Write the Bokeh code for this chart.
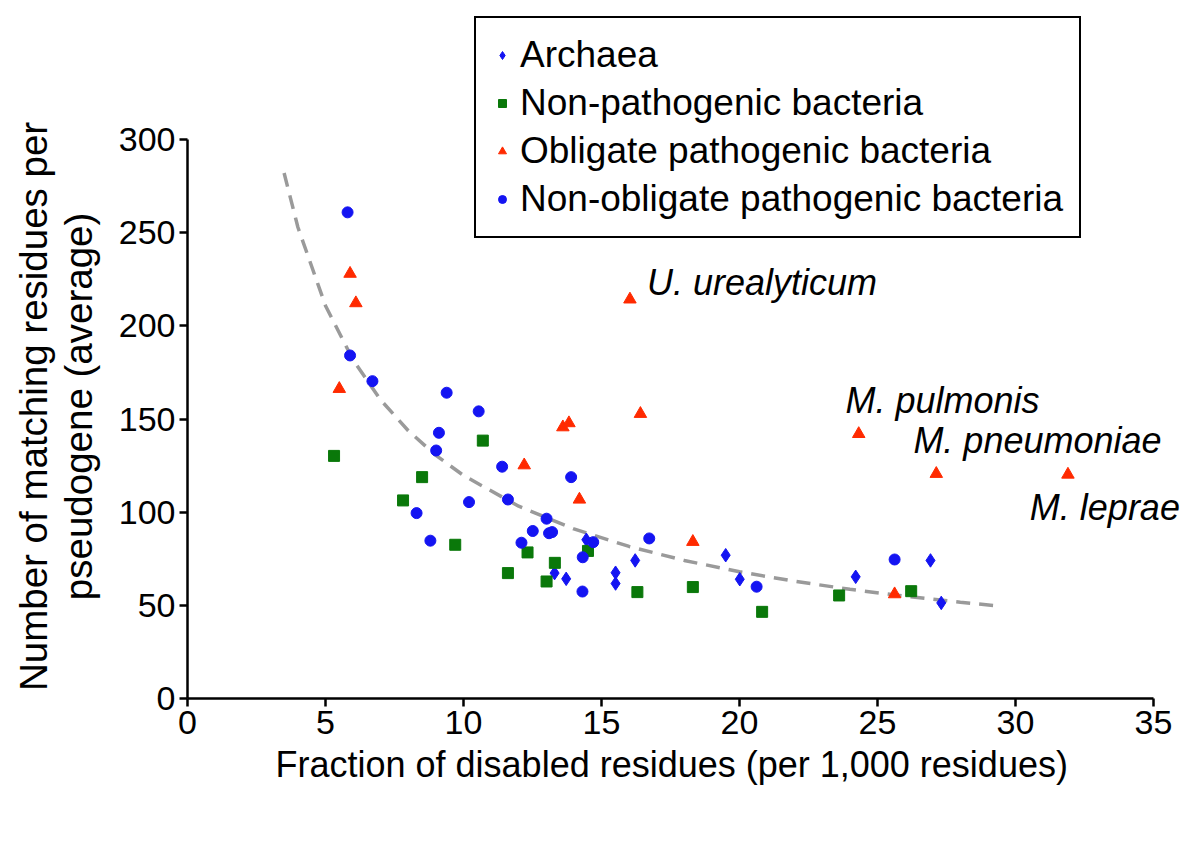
from bokeh.plotting import figure
from bokeh.models import Range1d, Legend, LegendItem, FixedTicker, Title
from bokeh.core.properties import value
from bokeh.embed import file_html
from bokeh.resources import INLINE

# ---- data ----
archaea_x = [13.30, 13.72, 14.45, 15.51, 15.51, 16.22, 19.50, 20.01, 24.21, 26.92, 27.31]
archaea_y = [67.3, 64.2, 85.2, 67.5, 61.7, 74.1, 76.9, 64.0, 65.3, 74.1, 51.3]

nonpath_x = [5.31, 7.81, 8.50, 9.70, 10.70, 11.61, 12.32, 13.01, 13.31, 14.51, 16.30, 18.31, 20.82, 23.61, 26.22]
nonpath_y = [130.2, 106.3, 118.8, 82.5, 138.4, 67.3, 78.4, 62.8, 72.8, 79.2, 57.1, 59.8, 46.5, 55.3, 57.6]

oblig_x = [5.50, 5.89, 6.10, 12.20, 13.60, 13.82, 14.20, 16.03, 16.41, 18.31, 24.32, 25.62, 27.13, 31.90]
oblig_y = [166.2, 228.0, 212.2, 125.2, 145.6, 147.8, 106.8, 214.2, 152.8, 84.1, 142.0, 56.0, 120.6, 120.2]

nonoblig_x = [5.80, 5.89, 6.70, 9.39, 10.55, 9.11, 9.01, 11.40, 13.90, 10.20, 11.61, 8.30, 13.01, 12.51,
              13.10, 13.21, 12.10, 8.80, 14.70, 14.32, 14.31, 16.73, 20.62, 25.62]
nonoblig_y = [260.9, 184.1, 170.3, 164.1, 154.1, 142.6, 133.1, 124.4, 118.8, 105.4, 106.8, 99.5, 96.5, 89.9,
              88.7, 89.3, 83.6, 84.7, 83.9, 75.8, 57.4, 85.9, 60.0, 74.6]

# dashed trend curve
trend_x = [3.5, 4, 5, 6, 7, 8, 9, 10, 12, 14, 16, 18, 20, 22, 24, 26, 28, 29.3]
trend_y = [282.0, 252.9, 210.8, 181.7, 160.2, 143.7, 130.5, 119.7, 103.2, 91.0, 81.6, 74.1, 68.0, 62.9, 58.6, 54.9, 51.7, 49.8]

species = ["U. urealyticum", "M. pulmonis", "M. pneumoniae", "M. leprae"]
species_x = [16.65, 23.84, 26.30, 30.52]
species_y = [223.5, 160.0, 138.5, 102.5]

x_ticks = [0, 5, 10, 15, 20, 25, 30, 35]
y_ticks = [0, 50, 100, 150, 200, 250, 300]

x_title = "Fraction of disabled residues (per 1,000 residues)"
y_title_1 = "Number of matching residues per"
y_title_2 = "pseudogene (average)"

FONT = "Liberation Sans"
BLUE = "#1414f2"
GREEN = "#0a780a"
RED = "#ff2a00"

# frame geometry (pixels): axis 0..35 spans 966 px, 0..300 spans 559 px
W, H = 1195, 845
LEFT, RIGHT, TOP, BOTTOM = 187, 5, 5, 147
px_per_x = 966 / 35.0
px_per_y = 559 / 300.0
x_end = (W - LEFT - RIGHT) / px_per_x
y_end = (H - TOP - BOTTOM) / px_per_y

p = figure(width=W, height=H, output_backend="svg", toolbar_location=None,
           x_range=Range1d(0, x_end), y_range=Range1d(0, y_end),
           min_border_left=LEFT, min_border_top=TOP, min_border_right=RIGHT, min_border_bottom=BOTTOM)
p.outline_line_color = None
p.xgrid.grid_line_color = None
p.ygrid.grid_line_color = None
p.background_fill_color = "white"
p.border_fill_color = "white"

for ax in (p.xaxis[0], p.yaxis[0]):
    ax.axis_line_width = 2.5
    ax.axis_line_color = "black"
    ax.major_tick_line_width = 2.5
    ax.major_tick_line_color = "black"
    ax.major_tick_out = 8
    ax.major_tick_in = 0
    ax.minor_tick_line_color = None
    ax.major_label_text_font = FONT
    ax.major_label_text_font_size = "34px"
    ax.major_label_text_color = "black"

p.xaxis.bounds = (0, 35)
p.yaxis.bounds = (0, 300)
p.xaxis.ticker = FixedTicker(ticks=x_ticks)
p.yaxis.ticker = FixedTicker(ticks=y_ticks)
p.xaxis.major_label_standoff = 4
p.yaxis.major_label_standoff = 4
# blank y axis label used only as a spacer between tick labels and the titles
p.yaxis.axis_label = " "
p.yaxis.axis_label_text_font_size = "2px"
p.yaxis.axis_label_standoff = 11

# axis titles placed relative to the 0..35 / 0..300 part of the frame
tx = Title(text=x_title, align="left", offset=88, vertical_align="top", standoff=14,
           text_font=FONT, text_font_size="36px", text_font_style="normal", text_color="black")
p.add_layout(tx, "below")

# y title: two lines centred on the 0..300 axis (centre ~292 px above frame bottom)
Y_FS = 38.5
len1 = 14.78 * Y_FS
len2 = 10.06 * Y_FS
ty2 = Title(text=y_title_2, align="left", offset=292 - len2 / 2, vertical_align="bottom", standoff=0,
            text_font=FONT, text_font_size=f"{Y_FS}px", text_font_style="normal", text_color="black")
ty1 = Title(text=y_title_1, align="left", offset=292 - len1 / 2, vertical_align="bottom", standoff=0,
            text_font=FONT, text_font_size=f"{Y_FS}px", text_font_style="normal", text_color="black")
p.add_layout(ty2, "left")
p.add_layout(ty1, "left")

p.line(trend_x, trend_y, line_color="#9a9a9a", line_width=3.5, line_dash="14 9")

r_arch = p.scatter(archaea_x, archaea_y, marker="diamond", size=13.5, fill_color=BLUE, line_color=BLUE)
r_non = p.scatter(nonpath_x, nonpath_y, marker="square", size=11, fill_color=GREEN, line_color=GREEN)
r_obl = p.scatter(oblig_x, oblig_y, marker="triangle", size=12.5, fill_color=RED, line_color=RED)
r_nob = p.scatter(nonoblig_x, nonoblig_y, marker="circle", size=11, fill_color=BLUE, line_color=BLUE)

p.text(species_x, species_y, text=species, text_font=value(FONT), text_font_style="italic",
       text_font_size="36px", text_align="left", text_baseline="middle", text_color="black")

legend = Legend(items=[
    LegendItem(label="Archaea", renderers=[r_arch]),
    LegendItem(label="Non-pathogenic bacteria", renderers=[r_non]),
    LegendItem(label="Obligate pathogenic bacteria", renderers=[r_obl]),
    LegendItem(label="Non-obligate pathogenic bacteria", renderers=[r_nob]),
], location=(287, 460))
legend.label_text_font = FONT
legend.label_text_font_size = "37px"
legend.label_text_color = "black"
legend.border_line_color = "black"
legend.border_line_alpha = 1.0
legend.border_line_width = 2.5
legend.background_fill_color = "white"
legend.background_fill_alpha = 1.0
legend.glyph_width = 20
legend.glyph_height = 20
legend.spacing = 6
legend.padding = 16
legend.margin = 0
legend.label_standoff = 8
p.add_layout(legend, "center")

open("out.html", "w").write(file_html(p, INLINE))
